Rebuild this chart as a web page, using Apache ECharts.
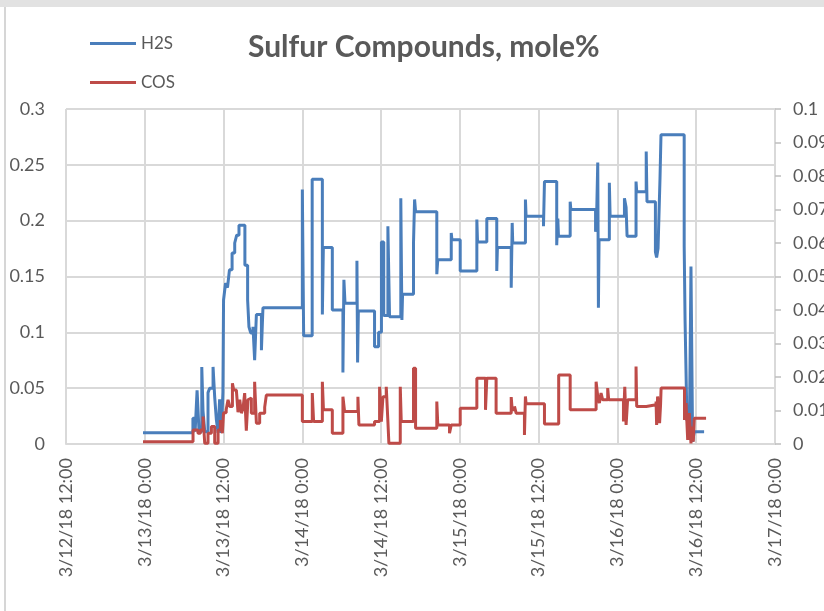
<!DOCTYPE html>
<html>
<head>
<meta charset="utf-8">
<script src="https://cdn.jsdelivr.net/npm/echarts@6/dist/echarts.min.js"></script>
<style>
html,body{margin:0;padding:0;background:#fff;}
#chart{width:824px;height:611px;}
</style>
</head>
<body>
<div id="chart"></div>
<script>
// ---- data ----
const xTickLabels = ['3/12/18 12:00','3/13/18 0:00','3/13/18 12:00','3/14/18 0:00','3/14/18 12:00','3/15/18 0:00','3/15/18 12:00','3/16/18 0:00','3/16/18 12:00','3/17/18 0:00'];

const h2sTimes = ['3/12 23:44','3/13 07:20','3/13 07:40','3/13 07:58','3/13 08:16','3/13 08:41','3/13 08:52','3/13 09:08','3/13 09:38','3/13 09:53','3/13 10:24','3/13 10:39','3/13 10:54','3/13 11:10','3/13 11:24','3/13 11:40','3/13 11:54','3/13 12:00','3/13 12:18','3/13 12:36','3/13 12:54','3/13 13:18','3/13 13:42','3/13 14:00','3/13 14:21','3/13 15:15','3/13 15:40','3/13 15:52','3/13 16:08','3/13 16:29','3/13 16:44','3/13 17:00','3/13 17:46','3/13 18:00','3/14 00:00','3/14 00:12','3/14 01:30','3/14 03:03','3/14 03:12','3/14 04:34','3/14 06:11','3/14 06:20','3/14 06:30','3/14 08:19','3/14 08:25','3/14 08:32','3/14 11:00','3/14 11:37','3/14 12:03','3/14 12:24','3/14 13:02','3/14 13:17','3/14 15:00','3/14 15:10','3/14 15:16','3/14 16:56','3/14 17:06','3/14 17:15','3/14 20:29','3/14 20:38','3/14 22:41','3/14 22:47','3/15 00:03','3/15 02:35','3/15 02:41','3/15 04:06','3/15 05:37','3/15 05:43','3/15 07:49','3/15 07:58','3/15 08:03','3/15 09:59','3/15 10:05','3/15 12:44','3/15 12:53','3/15 14:45','3/15 14:55','3/15 15:01','3/15 16:48','3/15 16:54','3/15 20:40','3/15 20:50','3/15 21:00','3/15 21:06','3/15 21:12','3/15 22:46','3/15 22:53','3/16 01:04','3/16 01:19','3/16 01:28','3/16 02:50','3/16 02:56','3/16 04:23','3/16 04:30','3/16 05:47','3/16 05:58','3/16 06:11','3/16 06:29','3/16 06:38','3/16 10:10','3/16 10:18','3/16 10:35','3/16 10:57','3/16 11:12','3/16 11:27','3/16 11:42','3/16 13:12'];
const h2sValues = [0.010,0.023,0.011,0.048,0.011,0.069,0.030,0.011,0.046,0.050,0.069,0.042,0.022,0.010,0.040,0.010,0.046,0.129,0.144,0.140,0.156,0.171,0.180,0.187,0.196,0.160,0.129,0.105,0.0995,0.105,0.075,0.116,0.084,0.122,0.228,0.097,0.237,0.116,0.176,0.120,0.064,0.147,0.126,0.164,0.073,0.119,0.087,0.100,0.181,0.115,0.195,0.114,0.220,0.111,0.134,0.180,0.219,0.208,0.152,0.165,0.189,0.183,0.155,0.201,0.181,0.202,0.155,0.176,0.140,0.198,0.180,0.219,0.204,0.195,0.235,0.178,0.202,0.186,0.217,0.210,0.190,0.205,0.252,0.122,0.183,0.234,0.204,0.220,0.212,0.186,0.235,0.226,0.262,0.217,0.172,0.167,0.175,0.238,0.277,0.177,0.111,0.021,0.004,0.159,0.002,0.011,0.011];

const cosTimes = ['3/12 23:44','3/13 07:21','3/13 08:06','3/13 08:28','3/13 08:53','3/13 09:08','3/13 09:38','3/13 10:09','3/13 10:39','3/13 11:10','3/13 11:31','3/13 11:49','3/13 12:00','3/13 12:24','3/13 12:41','3/13 12:56','3/13 13:21','3/13 13:33','3/13 13:57','3/13 14:12','3/13 14:28','3/13 14:43','3/13 14:58','3/13 15:13','3/13 15:28','3/13 15:43','3/13 15:59','3/13 16:14','3/13 16:44','3/13 17:00','3/13 17:30','3/13 18:16','3/13 18:31','3/14 00:00','3/14 01:31','3/14 01:43','3/14 03:03','3/14 03:13','3/14 04:34','3/14 06:11','3/14 06:26','3/14 08:28','3/14 08:37','3/14 11:00','3/14 11:46','3/14 12:02','3/14 12:17','3/14 12:47','3/14 13:02','3/14 13:11','3/14 14:55','3/14 15:04','3/14 16:56','3/14 17:15','3/14 20:29','3/14 20:38','3/14 22:25','3/14 22:41','3/15 00:03','3/15 02:35','3/15 03:54','3/15 04:06','3/15 05:31','3/15 07:49','3/15 07:58','3/15 08:19','3/15 08:34','3/15 09:50','3/15 09:59','3/15 10:05','3/15 12:53','3/15 15:03','3/15 16:48','3/15 20:45','3/15 21:00','3/15 21:15','3/15 21:30','3/15 21:45','3/15 22:31','3/15 22:40','3/16 00:55','3/16 01:07','3/16 01:19','3/16 01:33','3/16 02:50','3/16 02:56','3/16 04:24','3/16 05:53','3/16 05:58','3/16 06:07','3/16 06:25','3/16 06:34','3/16 06:39','3/16 10:13','3/16 10:27','3/16 10:42','3/16 10:57','3/16 11:12','3/16 11:21','3/16 11:33','3/16 11:42','3/16 13:30'];
const cosValues = [0.0007,0.0042,0.0032,0.0042,0.0082,0.0002,0.0032,0.0052,0.0002,0.0042,0.0072,0.0032,0.0093,0.0102,0.0132,0.0112,0.0181,0.0161,0.0156,0.0095,0.0132,0.0092,0.0107,0.0152,0.0040,0.0132,0.0137,0.0092,0.0186,0.0062,0.0092,0.0110,0.0146,0.0067,0.0152,0.0067,0.0186,0.0102,0.0032,0.0141,0.0097,0.0141,0.0057,0.0067,0.0171,0.0067,0.0141,0.0171,0.0067,0.0002,0.0171,0.0067,0.0226,0.0047,0.0127,0.0057,0.0032,0.0057,0.0107,0.0196,0.0102,0.0196,0.0092,0.0140,0.0102,0.0112,0.0092,0.0027,0.0142,0.0120,0.0060,0.0206,0.0102,0.0186,0.0142,0.0122,0.0152,0.0132,0.0167,0.0132,0.0067,0.0171,0.0057,0.0132,0.0231,0.0112,0.0117,0.0127,0.0057,0.0142,0.0062,0.0117,0.0167,0.0072,0.0122,0.0012,0.0092,0.0002,0.0052,0.0007,0.0077,0.0077];

// ---- helpers ----
function toMs(s){
  const [md, hm] = s.split(' ');
  const [m, d] = md.split('/').map(Number);
  const [h, mi] = hm.split(':').map(Number);
  return Date.UTC(2018, m - 1, d, h, mi);
}
const HOUR = 3600 * 1000;
const xMin = Date.UTC(2018, 2, 12, 12);
const xMax = Date.UTC(2018, 2, 17, 0);
const h2sData = h2sTimes.map((t, i) => [toMs(t), h2sValues[i]]);
const cosData = cosTimes.map((t, i) => [toMs(t), cosValues[i]]);

const FONT = 'Lato';
const GRAY = '#595959';
const GRID = '#d9d9d9';

const chart = echarts.init(document.getElementById('chart'), null, {renderer: 'canvas'});
chart.setOption({
  animation: false,
  backgroundColor: '#ffffff',
  textStyle: {fontFamily: FONT},
  graphic: [
    {type: 'rect', shape: {x: 0, y: 0, width: 824, height: 7}, style: {fill: '#e2e2e2'}, silent: true},
    {type: 'rect', shape: {x: 4, y: 7, width: 2, height: 604}, style: {fill: '#d6d6d6'}, silent: true}
  ],
  title: {
    text: 'Sulfur Compounds, mole%',
    left: 243,
    top: 27,
    textStyle: {fontFamily: FONT, fontWeight: 'bold', fontSize: 30, color: GRAY}
  },
  legend: {
    orient: 'vertical',
    left: 90,
    top: 35,
    padding: 0,
    itemWidth: 46,
    itemHeight: 16,
    itemGap: 22,
    icon: 'path://M0,7 L46,7 L46,10 L0,10 Z',
    textStyle: {fontFamily: FONT, fontSize: 17, color: GRAY, padding: [0, 0, 0, 0]},
    data: ['H2S', 'COS']
  },
  grid: {left: 66, right: 49, top: 109, bottom: 167, containLabel: false, outerBoundsMode: 'none'},
  xAxis: {
    type: 'value',
    min: xMin,
    max: xMax,
    interval: 12 * HOUR,
    axisLine: {show: true, lineStyle: {color: GRID, width: 2}},
    axisTick: {show: false},
    splitLine: {show: true, lineStyle: {color: GRID, width: 2}},
    axisLabel: {
      rotate: 90,
      margin: 14,
      fontFamily: FONT,
      fontSize: 18,
      color: GRAY,
      formatter: function (v) {
        const idx = Math.round((v - xMin) / (12 * HOUR));
        return xTickLabels[idx] || '';
      }
    }
  },
  yAxis: [
    {
      type: 'value',
      min: 0,
      max: 0.3,
      interval: 0.05,
      axisLine: {show: false},
      axisTick: {show: false},
      splitLine: {show: true, lineStyle: {color: GRID, width: 2}},
      axisLabel: {margin: 21, fontFamily: FONT, fontSize: 18, color: GRAY}
    },
    {
      type: 'value',
      min: 0,
      max: 0.1,
      interval: 0.01,
      position: 'right',
      axisLine: {show: true, lineStyle: {color: GRID, width: 2}},
      axisTick: {show: true, length: 6, lineStyle: {color: '#bfbfbf', width: 1.5}},
      splitLine: {show: false},
      axisLabel: {margin: 18, fontFamily: FONT, fontSize: 18, color: GRAY}
    }
  ],
  series: [
    {
      name: 'H2S',
      type: 'line',
      yAxisIndex: 0,
      step: 'end',
      symbol: 'none',
      data: h2sData,
      lineStyle: {color: '#4a7ebb', width: 3},
      itemStyle: {color: '#4a7ebb'},
      z: 3
    },
    {
      name: 'COS',
      type: 'line',
      yAxisIndex: 1,
      step: 'end',
      symbol: 'none',
      data: cosData,
      lineStyle: {color: '#be4b48', width: 3},
      itemStyle: {color: '#be4b48'},
      z: 4
    }
  ]
});
</script>
</body>
</html>
